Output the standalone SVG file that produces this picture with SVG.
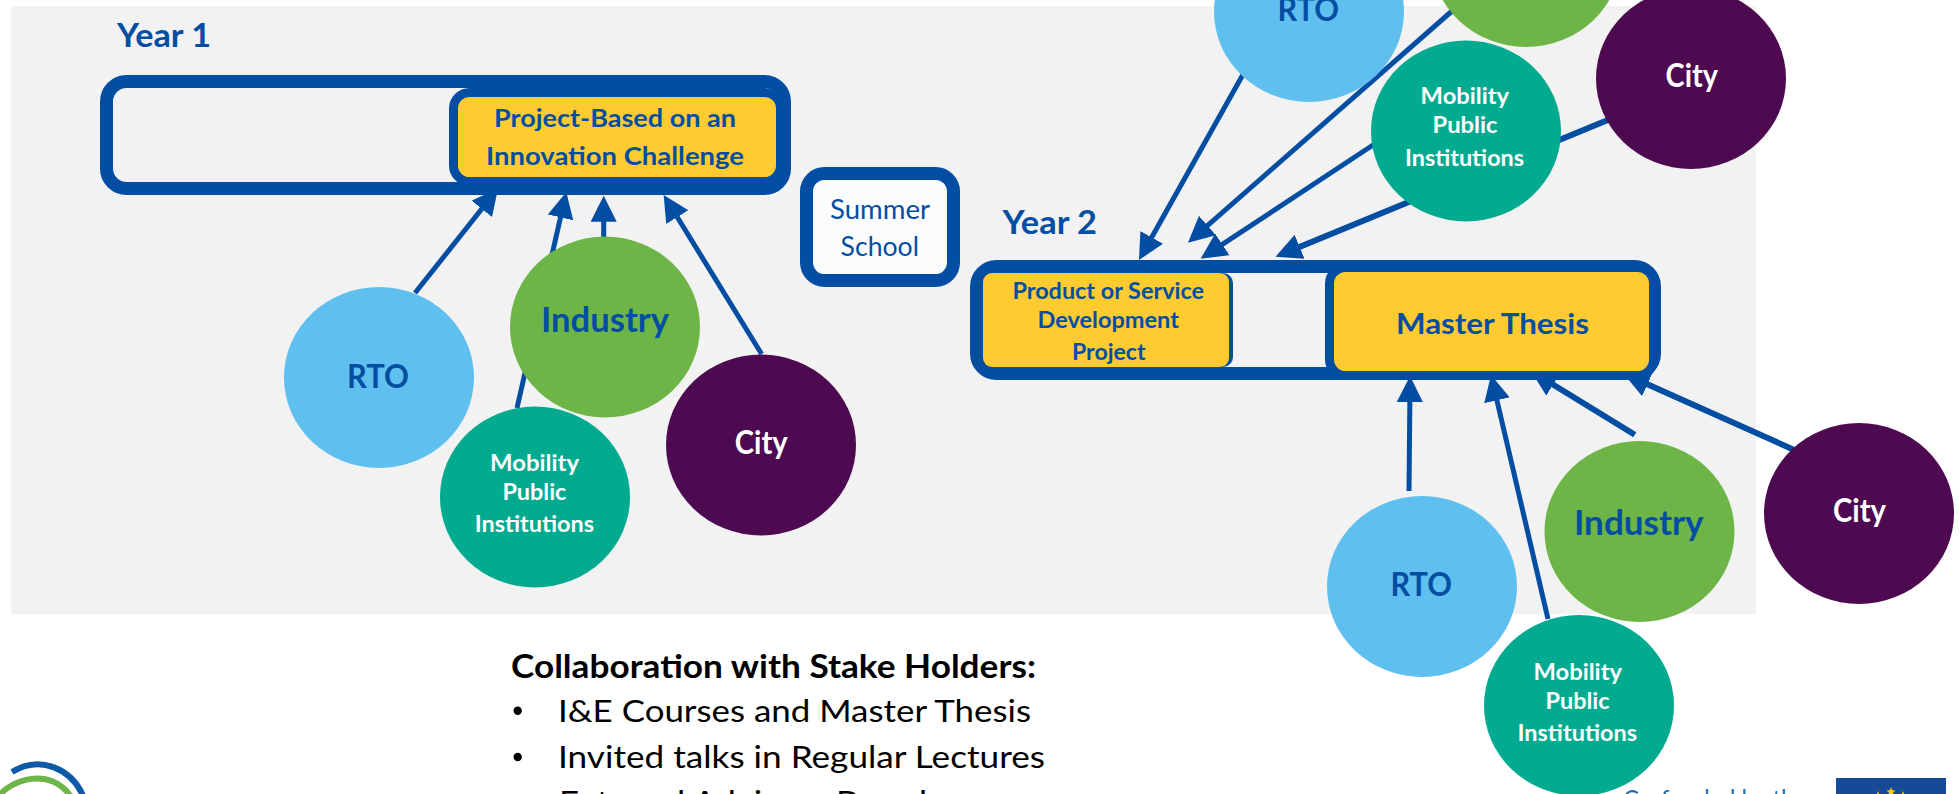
<svg xmlns="http://www.w3.org/2000/svg" width="1960" height="794" viewBox="0 0 1960 794">
<style>
text{font-family:Lato,"Liberation Sans",sans-serif;text-anchor:start}
.b{font-weight:700}
.blue{fill:#034ea2}
.w{fill:#fff;font-weight:700}
.big{font-size:33px}
.mob{font-size:23.5px}
.city{font-size:31.5px}
.con{stroke:#034ea2;stroke-width:5;fill:none;marker-end:url(#arrow)}
.thick{stroke-width:6}
.box{fill:none;stroke:#034ea2;stroke-width:13}
.inner{fill:#ffcb30;stroke:#034ea2;stroke-width:9}
.rto{fill:#5fc0f0}.ind{fill:#6db546}.mobi{fill:#02ab90}.cit{fill:#4d0a50}
.body{font-size:31.5px;fill:#000}
</style>
<defs>
<marker id="arrow" markerUnits="userSpaceOnUse" markerWidth="26" markerHeight="26" viewBox="0 0 26 26" refX="16" refY="13" orient="auto"><path d="M0 0L26 13L0 26z" fill="#034ea2"/></marker>
</defs>
<rect x="0" y="0" width="1960" height="794" fill="#fff"/>
<rect x="11" y="6" width="1745" height="608" fill="#f2f2f2"/>
<g id="connectors">
<line class="con" x1="415" y1="293" x2="491.8" y2="196.3"/>
<line class="con" x1="517" y1="408" x2="564.1" y2="201.8"/>
<line class="con" x1="603.7" y1="240.7" x2="603.7" y2="205.7"/>
<line class="con" x1="761.6" y1="354" x2="668.9" y2="203.5"/>
<line class="con" x1="1250" y1="62" x2="1143.9" y2="251.3"/>
<line class="con" x1="1460" y1="4" x2="1195.5" y2="236.1"/>
<line class="con" x1="1380.6" y1="140" x2="1209" y2="253.2"/>
<line class="con thick" x1="1620" y1="115" x2="1284.8" y2="252.9"/>
<line class="con" x1="1409" y1="491" x2="1410" y2="386"/>
<line class="con" x1="1548" y1="619" x2="1493.3" y2="384.7"/>
<line class="con thick" x1="1634.8" y1="434.7" x2="1539.5" y2="376.2"/>
<line class="con thick" x1="1800" y1="452.5" x2="1632.8" y2="377.8"/>
</g>
<g id="year1-label"><text class="b blue" x="117" y="46.5" font-size="33" textLength="94" lengthAdjust="spacingAndGlyphs">Year 1</text></g>
<g id="year1-box">
<rect class="box" x="106.5" y="81.5" width="678" height="107" rx="20"/>
<rect class="inner" x="453.5" y="92.5" width="327" height="89" rx="16"/>
<text class="b blue" x="494" y="127" font-size="25" textLength="242" lengthAdjust="spacingAndGlyphs">Project-Based on an</text>
<text class="b blue" x="486" y="164.5" font-size="25" textLength="258" lengthAdjust="spacingAndGlyphs">Innovation Challenge</text>
</g>
<g id="summer-school">
<rect x="806.5" y="173.5" width="147" height="107" rx="18" fill="#fbfcfd" stroke="#034ea2" stroke-width="13"/>
<text class="blue" x="830" y="218.7" font-size="26" textLength="100" lengthAdjust="spacingAndGlyphs">Summer</text>
<text class="blue" x="840.6" y="256" font-size="26" textLength="78.4" lengthAdjust="spacingAndGlyphs">School</text>
</g>
<g id="y1-rto"><ellipse class="rto" cx="379" cy="377.5" rx="95" ry="90.5"/><text class="b blue big" x="347" y="387.5" textLength="62" lengthAdjust="spacingAndGlyphs">RTO</text></g>
<g id="y1-industry"><ellipse class="ind" cx="605" cy="327" rx="95" ry="90.5"/><text class="b blue" font-size="33.5" x="541" y="331.5" textLength="128" lengthAdjust="spacingAndGlyphs">Industry</text></g>
<g id="y1-mobility"><ellipse class="mobi" cx="535" cy="497" rx="95" ry="90.5"/>
<text class="w mob" x="490" y="471" textLength="89" lengthAdjust="spacingAndGlyphs">Mobility</text>
<text class="w mob" x="502.4" y="500" textLength="64" lengthAdjust="spacingAndGlyphs">Public</text>
<text class="w mob" x="474.7" y="531.7" textLength="119.3" lengthAdjust="spacingAndGlyphs">Institutions</text></g>
<g id="y1-city"><ellipse class="cit" cx="761" cy="445" rx="95" ry="90.5"/><text class="w city" x="734.7" y="454" textLength="53" lengthAdjust="spacingAndGlyphs">City</text></g>
<g id="year2-label"><text class="b blue" x="1002.5" y="234" font-size="33" textLength="94.5" lengthAdjust="spacingAndGlyphs">Year 2</text></g>
<g id="year2-box">
<rect class="box" x="976.5" y="266.5" width="678" height="107" rx="20"/>
<rect x="976" y="273" width="257" height="94" rx="10" fill="#034ea2"/>
<rect x="983" y="273" width="246" height="94" rx="9" fill="#ffcb30"/>
<text class="b blue" x="1012.5" y="298.5" font-size="22.5" textLength="191.5" lengthAdjust="spacingAndGlyphs">Product or Service</text>
<text class="b blue" x="1037.5" y="327.7" font-size="22.5" textLength="141.5" lengthAdjust="spacingAndGlyphs">Development</text>
<text class="b blue" x="1072" y="359.5" font-size="22.5" textLength="73.6" lengthAdjust="spacingAndGlyphs">Project</text>
<rect class="inner" x="1329.5" y="267.5" width="324" height="108" rx="16"/>
<text class="b blue" x="1396" y="333.5" font-size="29" textLength="193" lengthAdjust="spacingAndGlyphs">Master Thesis</text>
</g>
<g id="y2-top-rto"><ellipse class="rto" cx="1309" cy="11.5" rx="95" ry="90.5"/><text class="b blue big" x="1277.5" y="21" textLength="61.5" lengthAdjust="spacingAndGlyphs">RTO</text></g>
<g id="y2-top-industry"><ellipse class="ind" cx="1526" cy="-43.5" rx="95" ry="90.5"/></g>
<g id="y2-top-mobility"><ellipse class="mobi" cx="1466" cy="131" rx="95" ry="90.5"/>
<text class="w mob" x="1420.6" y="104" textLength="88.4" lengthAdjust="spacingAndGlyphs">Mobility</text>
<text class="w mob" x="1432.5" y="133" textLength="65" lengthAdjust="spacingAndGlyphs">Public</text>
<text class="w mob" x="1405" y="165.7" textLength="119" lengthAdjust="spacingAndGlyphs">Institutions</text></g>
<g id="y2-top-city"><ellipse class="cit" cx="1691" cy="78.5" rx="95" ry="90.5"/><text class="w city" x="1665.6" y="86.5" textLength="52.4" lengthAdjust="spacingAndGlyphs">City</text></g>
<g id="y2-bottom-rto"><ellipse class="rto" cx="1422" cy="586.5" rx="95" ry="90.5"/><text class="b blue big" x="1390.5" y="595.5" textLength="61.5" lengthAdjust="spacingAndGlyphs">RTO</text></g>
<g id="y2-bottom-industry"><ellipse class="ind" cx="1639.5" cy="531.5" rx="95" ry="90.5"/><text class="b blue" font-size="33.5" x="1574" y="535" textLength="129.5" lengthAdjust="spacingAndGlyphs">Industry</text></g>
<g id="y2-bottom-mobility"><ellipse class="mobi" cx="1579" cy="705.5" rx="95" ry="90.5"/>
<text class="w mob" x="1533.5" y="679.7" textLength="88.5" lengthAdjust="spacingAndGlyphs">Mobility</text>
<text class="w mob" x="1545.6" y="709" textLength="64" lengthAdjust="spacingAndGlyphs">Public</text>
<text class="w mob" x="1517.5" y="740.7" textLength="119.5" lengthAdjust="spacingAndGlyphs">Institutions</text></g>
<g id="y2-bottom-city"><ellipse class="cit" cx="1859" cy="513.5" rx="95" ry="90.5"/><text class="w city" x="1833" y="521.5" textLength="53" lengthAdjust="spacingAndGlyphs">City</text></g>
<g id="collaboration">
<text class="b" font-size="32.5" fill="#000" x="511" y="677.5" textLength="525" lengthAdjust="spacingAndGlyphs">Collaboration with Stake Holders:</text>
<circle cx="517.7" cy="710.7" r="4.2"/>
<text class="body" x="558" y="722" textLength="473" lengthAdjust="spacingAndGlyphs">I&amp;E Courses and Master Thesis</text>
<circle cx="517.7" cy="757" r="4.2"/>
<text class="body" x="558" y="768" textLength="487" lengthAdjust="spacingAndGlyphs">Invited talks in Regular Lectures</text>
<text class="body" x="559" y="813" textLength="368" lengthAdjust="spacingAndGlyphs">External Advisory Board</text>
</g>
<g id="logo" fill="none">
<path d="M12 772C40 755 72 768 84 798" stroke="#0f5aa8" stroke-width="6"/>
<path d="M-3 798C10 780 50 765 72 798" stroke="#6db546" stroke-width="6"/>
</g>
<g id="eu-funding">
<text x="1623" y="808" font-size="25" fill="#1f6fb5" textLength="184" lengthAdjust="spacingAndGlyphs">Co-funded by the</text>
<rect x="1836" y="778" width="110" height="20" fill="#164a96"/>
<g fill="#fc0">
<polygon points="1891,787 1892.2,790.3 1895.7,790.4 1893,792.6 1893.9,796 1891,794 1888.1,796 1889,792.6 1886.3,790.4 1889.8,790.3"/>
<polygon points="1878,791 1879.2,794.3 1882.7,794.4 1880,796.6 1880.9,800 1878,798 1875.1,800 1876,796.6 1873.3,794.4 1876.8,794.3"/>
<polygon points="1903,791 1904.2,794.3 1907.7,794.4 1905,796.6 1905.9,800 1903,798 1900.1,800 1901,796.6 1898.3,794.4 1901.8,794.3"/>
</g>
</g>
</svg>
